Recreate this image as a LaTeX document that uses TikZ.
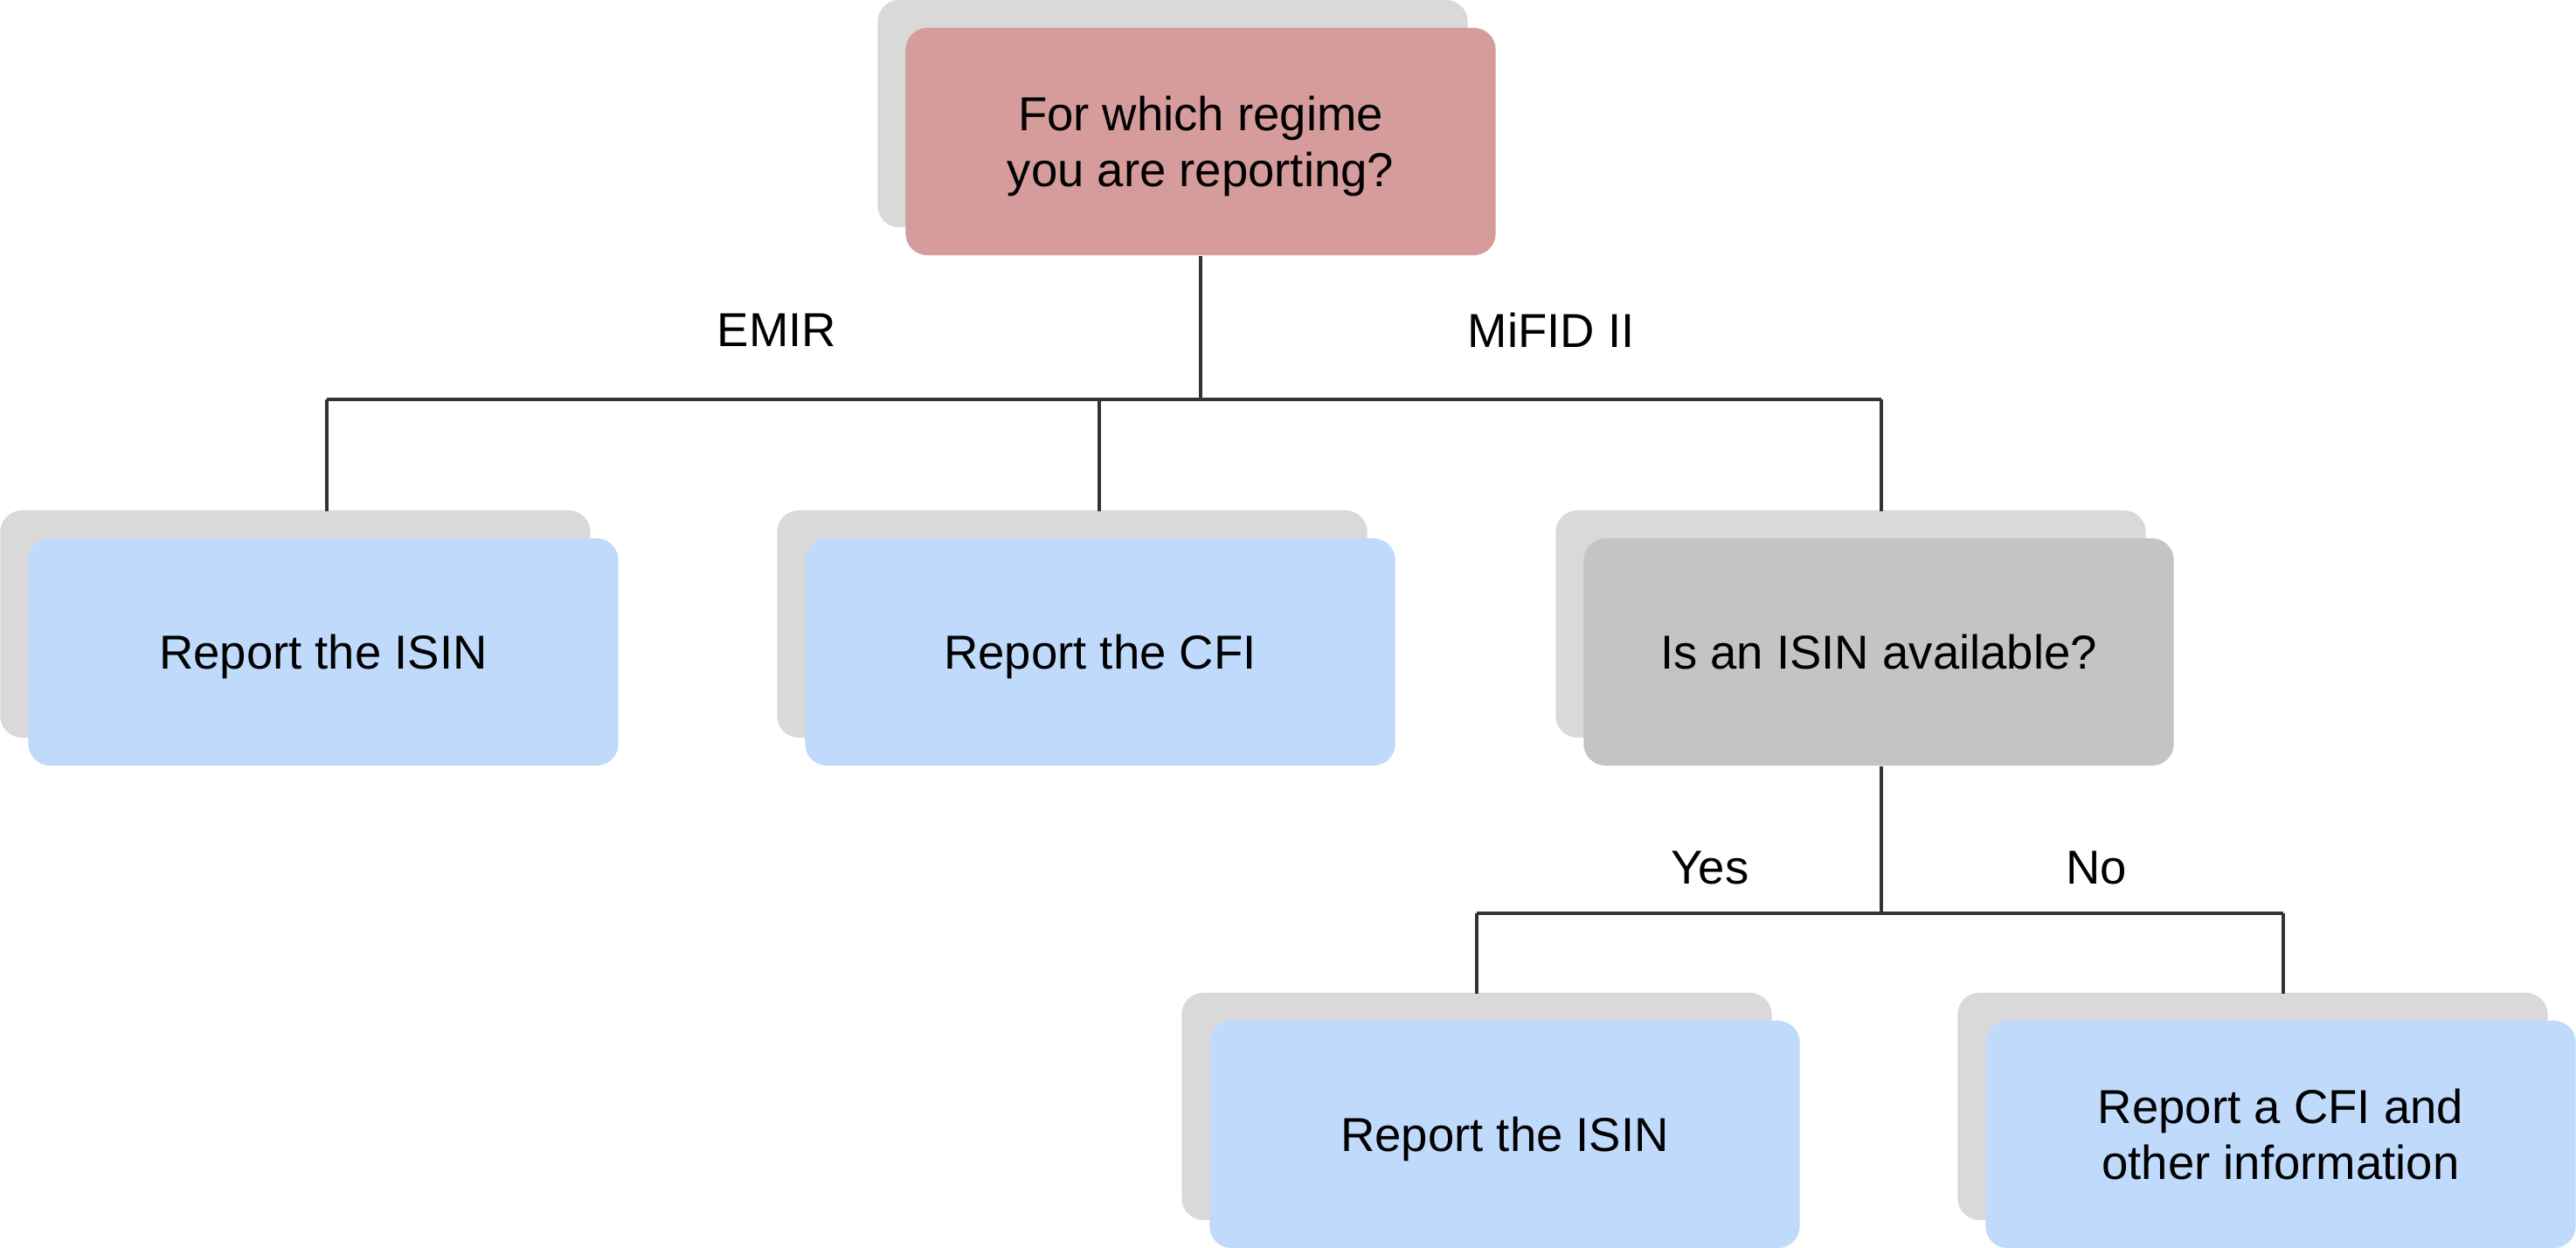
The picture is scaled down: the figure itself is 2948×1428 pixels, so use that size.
\documentclass[tikz,border=0pt]{standalone}
\usepackage{fontspec}
\setmainfont{Liberation Sans}
\definecolor{pinkfill}{HTML}{D69B9B}
\definecolor{bluefill}{HTML}{C0DAFC}
\definecolor{grayfill}{HTML}{C4C4C4}
\definecolor{shadowfill}{HTML}{D9D9D9}
\definecolor{linecol}{HTML}{333333}
\begin{document}
\begin{tikzpicture}[x=0.01cm,y=-0.01cm,
  box/.style={rectangle, rounded corners=0.25cm, minimum width=6.75cm, minimum height=2.6cm,
    inner sep=0pt, align=center, text depth=0pt, font=\fontsize{15.5}{18.2}\selectfont},
  shadowbox/.style={box, fill=shadowfill},
  pinkbox/.style={box, fill=pinkfill},
  bluebox/.style={box, fill=bluefill},
  graybox/.style={box, fill=grayfill},
  lbl/.style={font=\fontsize{15.5}{18.2}\selectfont, inner sep=0pt},
  conn/.style={draw=linecol, line width=0.9pt}
]
\useasboundingbox (0,0) rectangle (2948,1428);

% shadows
\node[shadowbox] (s0) at (1342,130) {};
\node[shadowbox] (s1) at (338,714) {};
\node[shadowbox] (s2) at (1227,714) {};
\node[shadowbox] (s3) at (2118,714) {};
\node[shadowbox] (s4) at (1690,1266) {};
\node[shadowbox] (s5) at (2578,1266) {};

% nodes
\node[pinkbox] (top) at (1374,162) {For which regime\\you are reporting?};
\node[bluebox] (b1) at (370,746) {Report the ISIN};
\node[bluebox] (b2) at (1259,746) {Report the CFI};
\node[graybox] (g) at (2150,746) {Is an ISIN available?};
\node[bluebox] (b3) at (1722,1298) {Report the ISIN};
\node[bluebox] (b4) at (2610,1298) {Report a CFI and\\other information};

% junction coordinates
\coordinate (j0) at (1374,457);
\coordinate (j0l) at (374,457);
\coordinate (j0m) at (1258,457);
\coordinate (j0r) at (2153,457);
\coordinate (e1) at (374,585);
\coordinate (e2) at (1258,585);
\coordinate (e3) at (2153,585);
\coordinate (j1) at (2153,1045);
\coordinate (j1l) at (1690,1045);
\coordinate (j1r) at (2613,1045);
\coordinate (e4) at (1690,1137);
\coordinate (e5) at (2613,1137);

% connectors
\draw[conn] (top.south) -- (j0);
\draw[conn] (j0l) -- (j0r);
\draw[conn] (j0l) -- (e1);
\draw[conn] (j0m) -- (e2);
\draw[conn] (j0r) -- (e3);
\draw[conn] (g.south -| j1) -- (j1);
\draw[conn] (j1l) -- (j1r);
\draw[conn] (j1l) -- (e4);
\draw[conn] (j1r) -- (e5);

% labels
\node[lbl] (lemir) at (889,378) {EMIR};
\node[lbl] (lmifid) at (1775,378) {MiFID II};
\node[lbl] (lyes) at (1957,993) {Yes};
\node[lbl] (lno) at (2399,993) {No};
\end{tikzpicture}
\end{document}
